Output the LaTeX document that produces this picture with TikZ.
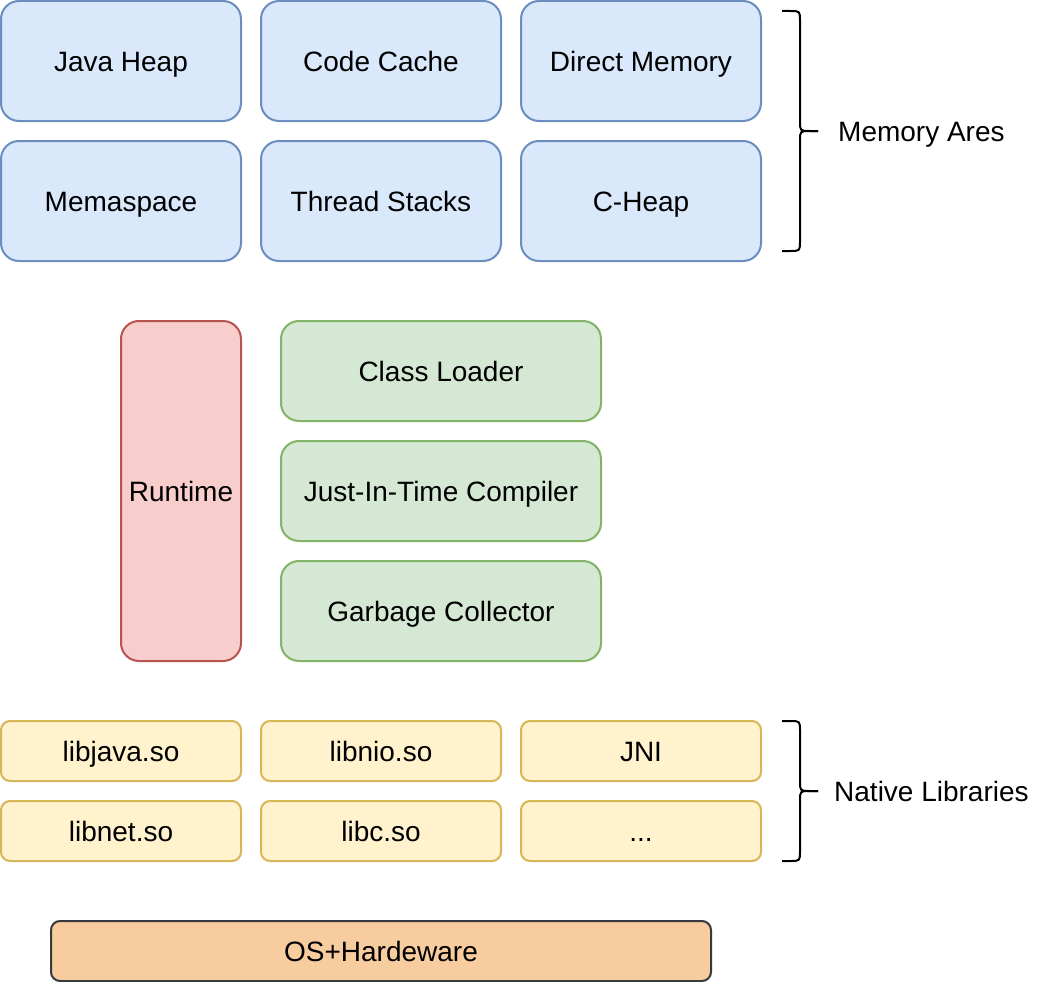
\documentclass[tikz,border=0pt]{standalone}
\usepackage{fontspec}
\setmainfont{Liberation Sans}
\definecolor{bluefill}{HTML}{DAE8FC}
\definecolor{bluedraw}{HTML}{6C8EBF}
\definecolor{greenfill}{HTML}{D5E8D4}
\definecolor{greendraw}{HTML}{82B366}
\definecolor{redfill}{HTML}{F8CECC}
\definecolor{reddraw}{HTML}{B85450}
\definecolor{yelfill}{HTML}{FFF2CC}
\definecolor{yeldraw}{HTML}{D6B656}
\definecolor{orfill}{HTML}{F7CC9F}
\definecolor{ordraw}{HTML}{36393D}
\begin{document}
\begin{tikzpicture}[x=1pt,y=-1pt,
  every node/.style={font=\fontsize{28}{34}\selectfont, text=black},
  boxbase/.style={draw, line width=2pt, inner sep=0pt, outer sep=0pt, text height=22pt, text depth=2pt},
  mem/.style={boxbase, fill=bluefill, draw=bluedraw, rounded corners=18pt, minimum width=240pt, minimum height=120pt},
  comp/.style={boxbase, fill=greenfill, draw=greendraw, rounded corners=18pt, minimum width=320pt, minimum height=100pt},
  rt/.style={boxbase, fill=redfill, draw=reddraw, rounded corners=18pt, minimum width=120pt, minimum height=340pt},
  lib/.style={boxbase, fill=yelfill, draw=yeldraw, rounded corners=9pt, minimum width=240pt, minimum height=60pt},
  os/.style={boxbase, fill=orfill, draw=ordraw, rounded corners=9pt, minimum width=660pt, minimum height=60pt},
  brace/.style={draw=black, line width=2pt, line join=round},
  lbl/.style={anchor=west, inner sep=0pt, text height=22pt, text depth=2pt}
]
\useasboundingbox (0,0) rectangle (1042,982);
% Memory areas
\node[mem] (jh) at (121,61) {Java Heap};
\node[mem] (cc) at (381,61) {Code Cache};
\node[mem] (dm) at (641,61) {Direct Memory};
\node[mem] (ms) at (121,201) {Memaspace};
\node[mem] (ts) at (381,201) {Thread Stacks};
\node[mem] (ch) at (641,201) {C-Heap};
% Runtime and components
\node[rt] (rtm) at (181,491) {Runtime};
\node[comp] (cl) at (441,371) {Class Loader};
\node[comp] (jit) at (441,491) {Just-In-Time Compiler};
\node[comp] (gc) at (441,611) {Garbage Collector};
% Native libs
\node[lib] (lj) at (121,751) {libjava.so};
\node[lib] (ln) at (381,751) {libnio.so};
\node[lib] (jni) at (641,751) {JNI};
\node[lib] (lnet) at (121,831) {libnet.so};
\node[lib] (lc) at (381,831) {libc.so};
\node[lib] (dots) at (641,831) {.{}.{}.};
% OS
\node[os] (osh) at (381,951) {OS+Hardeware};
% Braces
\coordinate (b1tip) at (818,131);
\draw[brace] (782,11) -- (790,11) .. controls (800,11) .. (800,21) -- (800,121)
  .. controls (800,131) .. (810,131) -- (b1tip);
\draw[brace] (782,251) -- (790,251) .. controls (800,251) .. (800,241) -- (800,141)
  .. controls (800,131) .. (810,131) -- (b1tip);
\node[lbl] (memlbl) at (838,131) {Memory Ares};
\coordinate (b2tip) at (818,791);
\draw[brace] (782,721) -- (790,721) .. controls (800,721) .. (800,731) -- (800,781)
  .. controls (800,791) .. (810,791) -- (b2tip);
\draw[brace] (782,861) -- (790,861) .. controls (800,861) .. (800,851) -- (800,801)
  .. controls (800,791) .. (810,791) -- (b2tip);
\node[lbl] (natlbl) at (834,791) {Native Libraries};
\end{tikzpicture}
\end{document}
